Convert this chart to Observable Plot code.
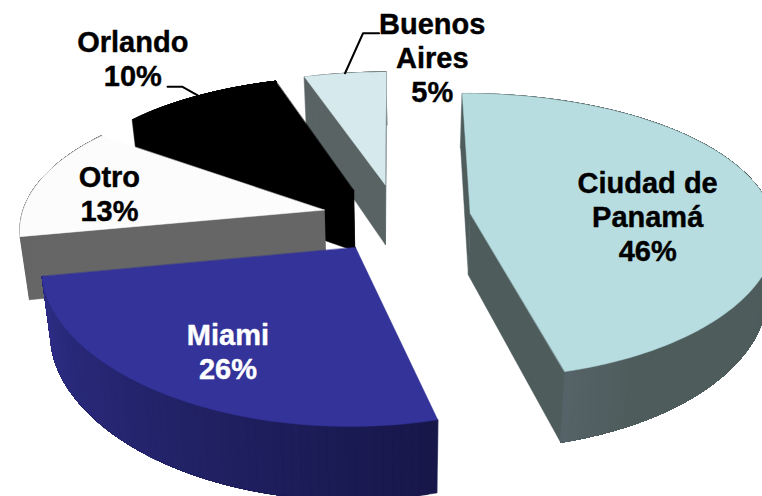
<!DOCTYPE html>
<html>
<head>
<meta charset="utf-8">
<script src="https://cdn.jsdelivr.net/npm/d3@7"></script>
<script src="https://cdn.jsdelivr.net/npm/@observablehq/plot@0.6"></script>
<style>
  html, body { margin: 0; padding: 0; background: #fff; }
  svg { display: block; }
</style>
</head>
<body>
<div id="chart"></div>
<script>
// Chart values
const cities = ["Ciudad de Panamá", "Miami", "Otro", "Orlando", "Buenos Aires"];
const shares = [46, 26, 13, 10, 5];
const labelLines = ["Ciudad de\nPanamá", "Miami", "Otro", "Orlando", "Buenos\nAires"];

// Styles, one per city
const topColors = ["#b7dde1", "#333399", "#fcfcfc", "#000000", "#d6e9ed"];
const wallBase = ["#4e5c5c", "#17174a", "#666666", "#000000", "#596363"];
const wallShade = ["#566469", "#2e2e88", "#666666", "#000000", "#596363"];
const shadeSpan = [0.08, 1, 1, 1, 1];
const inkColors = ["#000", "#fff", "#000", "#000", "#000"];
const drawOrder = [4, 3, 2, 1, 0];

// Where each label sits around its slice: radius (pie radii) and bearing (degrees)
const labelRadius = [0.586, 0.725, 0.738, 1.47, 1.165];
const labelBearing = [92.3, 210.6, 279.7, 323.7, 8.7];
// Leader bends, in pixels from the slice's arc midpoint
const leaderBends = {3: [[-16, -9], [-31, -9]], 4: [[18, -40], [34, -40]]};

// View of the tilted pie
const view = {x0: 396, y0: 217, rx: 303, ry: 140, kx: 0.12, ky: 0.158, depth: 62, kd: 0.13, taper: 0.025, explode: 0.246};
const rad = (d) => d * Math.PI / 180;

function project(U, V, drop = false) {
  const x = view.x0 + view.rx * U / (1 + view.kx * V);
  const y = view.y0 - view.ry * V / (1 + view.ky * V);
  if (!drop) return [x, y];
  return [view.x0 + (x - view.x0) * (1 - view.taper), y + view.depth / (1 + view.kd * V)];
}

// Slice angles come from the shares
const total = d3.sum(shares);
let running = 0;
const slices = shares.map((v, i) => {
  const a0 = running / total * 360;
  running += v;
  const a1 = running / total * 360;
  const mid = (a0 + a1) / 2;
  return {i, a0, a1, mid, cu: view.explode * Math.sin(rad(mid)), cv: view.explode * Math.cos(rad(mid))};
});
const rim = (s, a) => [s.cu + Math.sin(rad(a)), s.cv + Math.cos(rad(a))];

const faces = [];
function addFace(id, color, pts) {
  pts.forEach(([x, y]) => faces.push({id, color, x, y}));
}

for (const i of drawOrder) {
  const s = slices[i];
  const mix = d3.interpolateRgb(wallBase[i], wallShade[i]);
  const centerTop = project(s.cu, s.cv);
  const centerLow = project(s.cu, s.cv, true);
  // a point inside the top face: the radial walls reach under it, so no seam shows
  const inner = project(s.cu + 0.5 * Math.sin(rad(s.mid)), s.cv + 0.5 * Math.cos(rad(s.mid)));
  // radial walls
  for (const a of [s.a0, s.a1]) {
    const [u, v] = rim(s, a);
    addFace(`r${i}-${a}`, wallBase[i], [inner, project(u, v), project(u, v, true), centerLow, centerTop]);
  }
  // outer wall, in overlapping strips that run to the arc's end, so that it shades along the arc
  const steps = Math.max(4, Math.round((s.a1 - s.a0) / 1.5));
  for (let k = 0; k < steps; k++) {
    const f = k / steps;
    const start = 1 - shadeSpan[i];
    const t = f > start ? (f - start) / shadeSpan[i] : 0;
    const lo = s.a0 + (s.a1 - s.a0) * f;
    const n = Math.max(1, Math.round((s.a1 - lo) / 1.5));
    const top = [], low = [];
    for (let j = 0; j <= n; j++) {
      const [u, v] = rim(s, lo + (s.a1 - lo) * j / n);
      top.push(project(u, v));
      low.push(project(u, v, true));
    }
    addFace(`w${i}-${k}`, mix(t), [...top, ...low.reverse()]);
  }
  // top
  const arc = d3.range(steps + 1).map((k) => {
    const [u, v] = rim(s, s.a0 + (s.a1 - s.a0) * k / steps);
    return project(u, v);
  });
  addFace(`t${i}`, topColors[i], [centerTop, ...arc]);
}

// Leaders
const leaders = [];
for (const key of Object.keys(leaderBends)) {
  const s = slices[+key];
  const [u, v] = rim(s, s.mid);
  const [ax, ay] = project(u, v);
  leaders.push({id: key, x: ax, y: ay});
  leaderBends[key].forEach(([dx, dy]) => leaders.push({id: key, x: ax + dx, y: ay + dy}));
}

// Labels
const labels = slices.map((s) => {
  const b = rad(labelBearing[s.i]);
  const [x, y] = project(s.cu + labelRadius[s.i] * Math.sin(b), s.cv + labelRadius[s.i] * Math.cos(b));
  return {x, y, ink: inkColors[s.i], text: `${labelLines[s.i]}\n${shares[s.i]}%`, city: cities[s.i]};
});

const chart = Plot.plot({
  width: 762,
  height: 496,
  margin: 0,
  x: {domain: [0, 762], range: [0, 762], axis: null},
  y: {domain: [0, 496], range: [0, 496], axis: null},
  color: {type: "identity"},
  style: {background: "#fff", fontFamily: "'Liberation Sans', Arial, sans-serif"},
  marks: [
    Plot.line(faces, {x: "x", y: "y", z: "id", fill: "color", stroke: "color", strokeWidth: 0.5, curve: "linear-closed"}),
    Plot.line(leaders, {x: "x", y: "y", z: "id", stroke: "#000", strokeWidth: 2}),
    Plot.text(labels, {x: "x", y: "y", text: "text", fill: "ink", stroke: "ink", strokeWidth: 0.4, fontSize: 29, fontWeight: "bold", lineHeight: 1.17, textAnchor: "middle", lineAnchor: "middle"})
  ]
});
document.getElementById("chart").append(chart);
</script>
</body>
</html>
